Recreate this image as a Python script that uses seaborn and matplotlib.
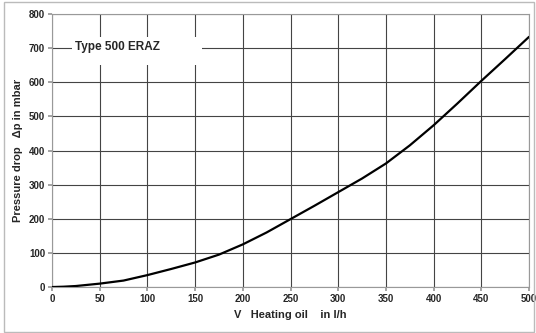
import matplotlib
matplotlib.use("Agg")
import matplotlib.pyplot as plt
import seaborn as sns
import pandas as pd
from matplotlib.patches import Rectangle

flow = [0, 12, 25, 50, 75, 100, 125, 150, 175, 200, 225, 250, 275, 300, 325, 350, 375, 400, 425, 450, 475, 500]
pressure = [0, 1, 3, 10, 19, 35, 53, 72, 95, 125, 160, 199, 238, 278, 318, 362, 415, 474, 538, 604, 668, 733]
xticks = [0, 50, 100, 150, 200, 250, 300, 350, 400, 450, 500]
yticks = [0, 100, 200, 300, 400, 500, 600, 700, 800]

sns.set_theme(style="white")
plt.rcParams['font.family'] = ['Liberation Sans', 'DejaVu Sans']

df = pd.DataFrame({"flow": flow, "pressure": pressure})
fig = plt.figure(figsize=(5.36, 3.33), dpi=100)
ax = fig.add_axes([0.097, 0.138, 0.890, 0.820])
sns.lineplot(data=df, x="flow", y="pressure", ax=ax, color="black", linewidth=1.6, zorder=5)
ax.set_xlim(0, 500)
ax.set_ylim(0, 800)
ax.set_xticks(xticks)
ax.set_yticks(yticks)
ax.grid(True, color="#444444", linewidth=0.8)
ax.set_axisbelow(True)
for s in ax.spines.values():
    s.set_color("#999999")
    s.set_linewidth(0.8)
ax.tick_params(axis="both", labelsize=7, length=3, color="#999999", pad=2, direction="out")
ax.tick_params(left=True, bottom=True)
for lab in ax.get_xticklabels() + ax.get_yticklabels():
    lab.set_fontweight("bold")
ax.set_xlabel("V   Heating oil    in l/h", fontsize=8, fontweight="bold", labelpad=4)
ax.set_ylabel("Pressure drop   \u0394p in mbar", fontsize=8, fontweight="bold", labelpad=4)
ax.add_patch(Rectangle((21, 651), 136, 82, facecolor="white", edgecolor="none", zorder=3))
ax.text(24, 702, "Type 500 ERAZ", fontsize=8.5, fontweight="bold", va="center", ha="left", zorder=4)
fig.patches.append(Rectangle((0.007, 0.003), 0.990, 0.99, transform=fig.transFigure,
                             fill=False, edgecolor="#bbbbbb", linewidth=1))
fig.savefig("out.png", dpi=100)
